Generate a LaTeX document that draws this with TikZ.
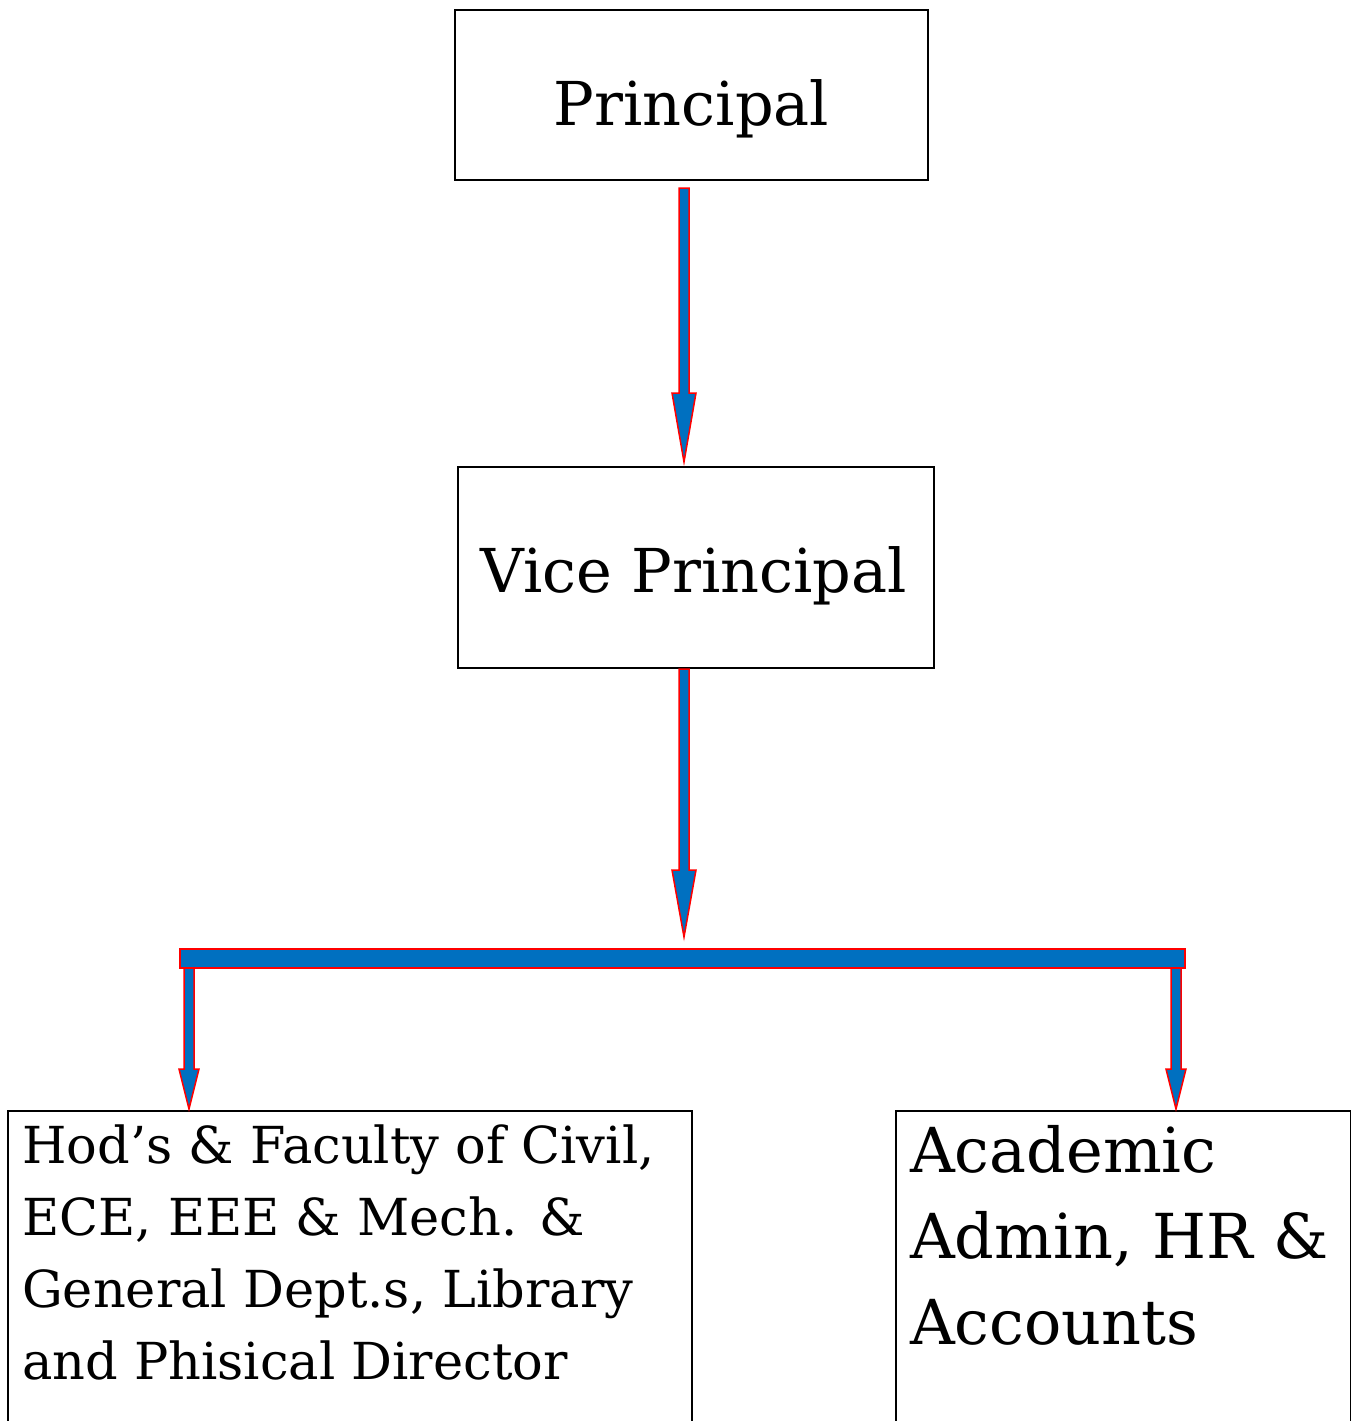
\documentclass[tikz,border=0pt]{standalone}
\usepackage{fontspec}
\setmainfont{DejaVu Serif}
\usetikzlibrary{calc}
\definecolor{arrowblue}{RGB}{0,112,192}
\definecolor{arrowred}{RGB}{255,0,0}
\tikzset{
  box/.style={draw=black, line width=2pt, inner sep=0pt},
  barrowstyle/.style={fill=arrowblue, draw=arrowred, line width=1.5pt, line join=miter},
  bigtext/.style={font=\fontsize{60.5}{70}\selectfont, anchor=base, inner sep=0pt},
  lefttext/.style={font=\fontsize{51}{72}\selectfont, align=left, anchor=base west, inner sep=0pt},
  righttext/.style={font=\fontsize{62}{86}\selectfont, align=left, anchor=base west, inner sep=0pt},
}
% block arrow from coordinate #1 down to tip coordinate #2, head length #3
\newcommand\blockarrow[3]{%
  \draw[barrowstyle] ($(#1)+(-5,0)$) -- ($(#1)+(5,0)$) -- ($(#2)+(5,-#3)$) -- ($(#2)+(12,-#3)$)
    -- (#2) -- ($(#2)+(-12,-#3)$) -- ($(#2)+(-5,-#3)$) -- cycle;}
\newcommand\smallarrow[3]{%
  \draw[barrowstyle] ($(#1)+(-5,0)$) -- ($(#1)+(5,0)$) -- ($(#2)+(5,-#3)$) -- ($(#2)+(10,-#3)$)
    -- (#2) -- ($(#2)+(-10,-#3)$) -- ($(#2)+(-5,-#3)$) -- cycle;}
\begin{document}
\begin{tikzpicture}[x=1pt,y=-1pt]
\clip (0,0) rectangle (1351,1421);
\fill[white] (0,0) rectangle (1351,1421);
% boxes
\node[box, minimum width=473pt, minimum height=170pt] (p) at (691.5,95) {};
\node[box, minimum width=476pt, minimum height=201pt] (vp) at (696,567.5) {};
\node[box, minimum width=684pt, minimum height=330pt, anchor=north west] (hod) at (7,1110) {};
\node[box, minimum width=455pt, minimum height=330pt, anchor=north west] (acad) at (895,1110) {};
% texts
\node[bigtext] (pt) at (691.5,125) {Principal};
\node[bigtext] (vpt) at (694,592) {Vice Principal};
\node[lefttext] (hodt) at (22,1379) {Hod’s \& Faculty of Civil,\\ECE, EEE \& Mech. \&\\General Dept.s, Library\\and Phisical Director};
\node[righttext] (acadt) at (910,1344) {Academic\\Admin, HR \&\\Accounts};
% connector coordinates
\coordinate (a1s) at (684,188);
\coordinate (a1e) at (684,462);
\coordinate (a2s) at (684,669);
\coordinate (a2e) at (684,937);
\coordinate (bl) at (180,949);
\coordinate (br) at (1185,968);
\coordinate (l1s) at (189,967);
\coordinate (l1e) at (189,1109);
\coordinate (r1s) at (1176,967);
\coordinate (r1e) at (1176,1109);
\blockarrow{a1s}{a1e}{69}
\blockarrow{a2s}{a2e}{67}
\smallarrow{l1s}{l1e}{40}
\smallarrow{r1s}{r1e}{40}
\draw[barrowstyle] (bl) rectangle (br);
\end{tikzpicture}
\end{document}
